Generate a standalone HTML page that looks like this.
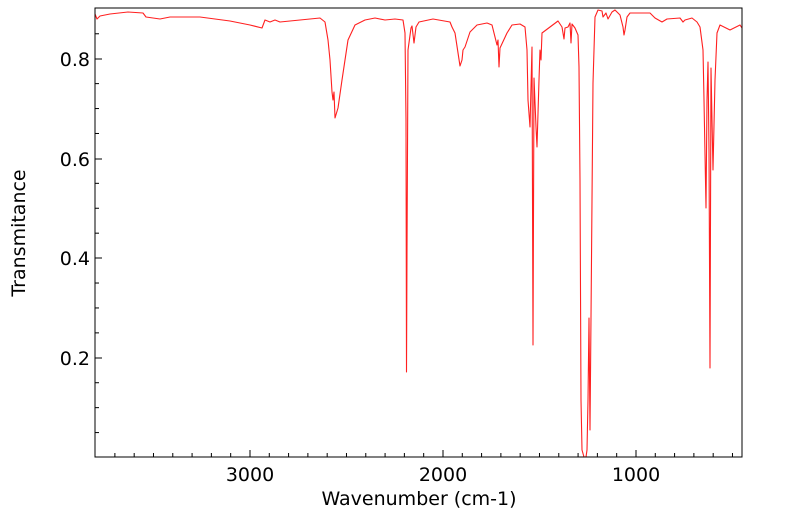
<!DOCTYPE html>
<html><head><meta charset="utf-8"><style>
html,body{margin:0;padding:0;background:#fff;}
svg{display:block;font-family:"DejaVu Sans","Liberation Sans",sans-serif;}
</style></head><body>
<svg width="799" height="516" viewBox="0 0 799 516" xmlns="http://www.w3.org/2000/svg">
<rect width="799" height="516" fill="#fff"/>
<g stroke="#000" stroke-width="1">
<line x1="250" y1="457" x2="250" y2="450"/>
<line x1="443" y1="457" x2="443" y2="450"/>
<line x1="636" y1="457" x2="636" y2="450"/>
<line x1="95" y1="59" x2="102" y2="59"/>
<line x1="95" y1="159" x2="102" y2="159"/>
<line x1="95" y1="258" x2="102" y2="258"/>
<line x1="95" y1="358" x2="102" y2="358"/>
</g>
<g id="xt" stroke="#000" stroke-width="1"></g>
<g id="yt" stroke="#000" stroke-width="1"></g>
<path fill="none" stroke="#ff2020" stroke-width="1.1" stroke-linejoin="round" d="
M95,14 L97,19 L100,16 L110,14 L128,12 L143,13 L146,17 L160,19 L170,17 L200,17 L215,19 L230,21 L240,23 L250,25 L262,28 L265,20 L270,22 L275,20 L280,22 L300,20 L320,18 L325,22 L328,40 L330,60 L332,92 L333,100 L334,92 L335,118 L338,108 L342,80 L348,40 L355,25 L365,20 L375,18 L385,20 L395,19 L403,20 L405,33 L406,120 L406.5,372 L407,250 L408,50 L411,28 L412,26 L414,43 L416,27 L419,22 L433,19 L450,22 L452,27 L455,33 L460,66 L462,60 L463,50 L465,47 L470,32 L477,25 L487,23 L492,25 L497,45 L498,40 L499,67 L500,48 L507,33 L512,25 L520,24 L525,27 L527,50 L528,100 L530,127 L532,47 L533,345 L534,78 L536,127 L537,147 L539,80 L540,50 L541,60 L542,33 L550,27 L558,21 L562,27 L564,39 L565,28 L568,27 L570,23 L571,43 L572,24 L575,28 L578,35 L579,67 L580,180 L581,400 L582,450 L584,457 L586,457 L587,450 L588,400 L589,318 L590,430 L591,318 L592,200 L593,83 L595,17 L598,10 L602,11 L603,17 L606,13 L608,19 L612,12 L615,10 L620,15 L623,27 L624,35 L625,30 L627,17 L630,13 L650,13 L655,18 L662,22 L667,19 L680,18 L683,22 L685,20 L692,18 L697,22 L700,27 L703,50 L704,100 L706,208 L707,100 L708,62 L709,150 L710,368 L711,68 L712,120 L713,170 L715,80 L717,33 L720,25 L730,30 L740,25 L742,28"/>
<rect x="95" y="8" width="647" height="449" fill="none" stroke="#000" stroke-width="1"/>
<g font-size="19" fill="#000">
<text x="250" y="481" text-anchor="middle">3000</text>
<text x="443" y="481" text-anchor="middle">2000</text>
<text x="636" y="481" text-anchor="middle">1000</text>
<text x="90" y="66" text-anchor="end">0.8</text>
<text x="90" y="166" text-anchor="end">0.6</text>
<text x="90" y="265" text-anchor="end">0.4</text>
<text x="90" y="365" text-anchor="end">0.2</text>
<text x="419" y="505" text-anchor="middle">Wavenumber (cm-1)</text>
<text transform="translate(25,233) rotate(-90)" text-anchor="middle">Transmitance</text>
</g>
<script>
var xt=document.getElementById('xt'),yt=document.getElementById('yt'),ns='http://www.w3.org/2000/svg';
for(var w=3800;w>=500;w-=100){if(w%1000==0)continue;var x=95+(3803-w)*0.193;if(x<96||x>741)continue;var l=document.createElementNS(ns,'line');l.setAttribute('x1',x);l.setAttribute('x2',x);l.setAttribute('y1',457);l.setAttribute('y2',453);xt.appendChild(l);}
for(var v=0.05;v<0.9;v+=0.05){var r=Math.round(v*20);if(r%4==0)continue;var y=457.5-v*498.5;var l=document.createElementNS(ns,'line');l.setAttribute('x1',95);l.setAttribute('x2',99);l.setAttribute('y1',y);l.setAttribute('y2',y);yt.appendChild(l);}
</script>
</svg>
</body></html>
